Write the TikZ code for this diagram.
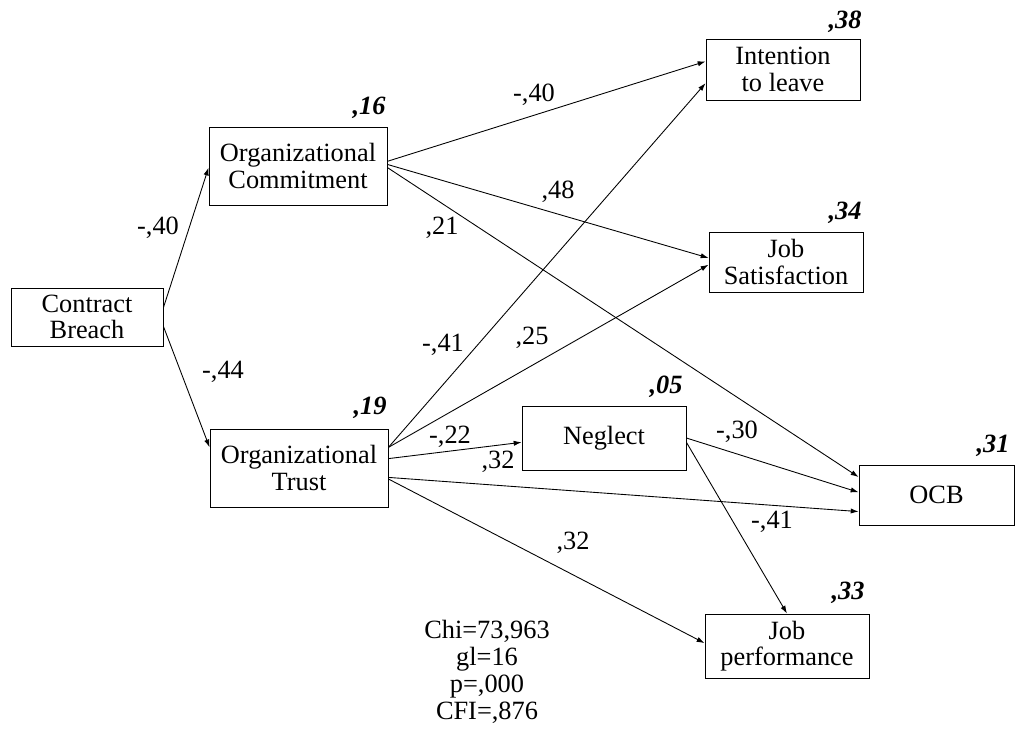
\documentclass[tikz,border=0pt]{standalone}
\usepackage{fontspec}
\setmainfont{Liberation Serif}
\usetikzlibrary{arrows.meta}

\begin{document}
\begin{tikzpicture}[x=0.02cm,y=-0.02cm,
  var/.style={draw,line width=0.5pt,inner sep=0pt,align=center,font=\fontsize{15}{15.2}\selectfont},
  path/.style={-{Latex[length=4.5pt,width=3pt]},line width=0.5pt},
  coef/.style={inner sep=0pt,font=\fontsize{15}{15.2}\selectfont},
  rsq/.style={inner sep=0pt,font=\fontsize{15}{15.2}\selectfont\bfseries\itshape}]

\useasboundingbox (0,0) rectangle (1017,735);

% Variables
\node[var,minimum width=3.04cm,minimum height=1.16cm] (cb) at (87,317) {Contract\\Breach};
\node[var,minimum width=3.56cm,minimum height=1.56cm] (oc) at (298,166) {Organizational\\Commitment};
\node[var,minimum width=3.56cm,minimum height=1.56cm] (ot) at (299,468) {Organizational\\Trust};
\node[var,minimum width=3.08cm,minimum height=1.22cm] (il) at (783,69.5) {Intention\\to leave};
\node[var,minimum width=3.08cm,minimum height=1.2cm] (js) at (786,262) {Job\\Satisfaction};
\node[var,minimum width=3.28cm,minimum height=1.28cm] (ng) at (604,438) {Neglect};
\node[var,minimum width=3.1cm,minimum height=1.2cm] (ocb) at (936.5,495) {OCB};
\node[var,minimum width=3.28cm,minimum height=1.28cm] (jp) at (787,646) {Job\\performance};

% Paths
\draw[path] (cb.7) -- (oc.181);
\draw[path] (cb.-7.5) -- (ot.167);
\draw[path] (oc.3) -- (il.174);
\draw[path] (oc.1) -- (js.177);
\draw[path] (oc.-1) -- (ocb.167);
\draw[path] (ot.13) -- (il.190);
\draw[path] (ot.13) -- (js.182);
\draw[path] (ot.6) -- (ng.183);
\draw[path] (ot.-6.5) -- (ocb.192);
\draw[path] (ot.-7.5) -- (jp.178);
\draw[path] (ng.0) -- (ocb.178);
\draw[path] (ng.-3.5) -- (jp.north);

% Coefficients
\node[coef] (cboc) at (158,228) {-,40};
\node[coef] (cbot) at (223,372) {-,44};
\node[coef] (ocil) at (534,95) {-,40};
\node[coef] (ocjs) at (558,192) {,48};
\node[coef] (ococb) at (442,228) {,21};
\node[coef] (otil) at (443,345) {-,41};
\node[coef] (otjs) at (532,338) {,25};
\node[coef] (otng) at (450,437) {-,22};
\node[coef] (otngb) at (498,462) {,32};
\node[coef] (ngocb) at (737,432) {-,30};
\node[coef] (ngjp) at (772,522) {-,41};
\node[coef] (otjp) at (573,543) {,32};

% Explained variance
\node[rsq] (r2oc) at (369,108) {,16};
\node[rsq] (r2ot) at (370,408) {,19};
\node[rsq] (r2il) at (845,22) {,38};
\node[rsq] (r2js) at (845,213) {,34};
\node[rsq] (r2ng) at (666,387) {,05};
\node[rsq] (r2ocb) at (993,446) {,31};
\node[rsq] (r2jp) at (848,593) {,33};

% Fit
\node[coef,align=center,font=\fontsize{15}{15.4}\selectfont] (fit) at (487,671.5) {Chi=73,963\\gl=16\\p=,000\\CFI=,876};

\end{tikzpicture}
\end{document}
